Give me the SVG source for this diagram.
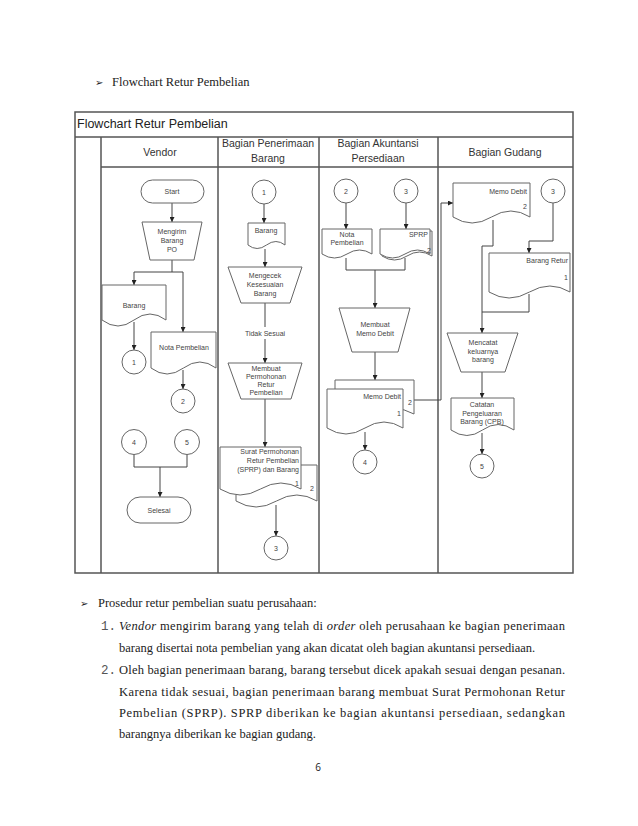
<svg xmlns="http://www.w3.org/2000/svg" width="638" height="826" viewBox="0 0 638 826">
<defs>
<marker id="ah" viewBox="0 0 10 10" refX="10" refY="5" markerWidth="5" markerHeight="5" orient="auto"><path d="M0,0 L10,5 L0,10 z" fill="#222"/></marker>
<style>
.frame{fill:none;stroke:#555;stroke-width:1.5}
.sh{fill:#fff;stroke:#666;stroke-width:1}
.ln{fill:none;stroke:#444;stroke-width:1}
.ar{fill:none;stroke:#444;stroke-width:1;marker-end:url(#ah)}
.t{font-family:"Liberation Sans",Arial,sans-serif;font-size:7px;fill:#444;text-anchor:middle}
.tr{font-family:"Liberation Sans",Arial,sans-serif;font-size:7px;fill:#444;text-anchor:end}
.hd{font-family:"Liberation Sans",Arial,sans-serif;font-size:10.5px;fill:#333;text-anchor:middle}
.body{font-family:"Liberation Serif","Times New Roman",serif;font-size:12.5px;fill:#222}
.mono{font-family:"Liberation Mono","Courier New",monospace;font-size:12.5px;fill:#555}
.bul{font-family:"DejaVu Sans",sans-serif;font-size:10px;fill:#222}
</style>
</defs>
<rect width="638" height="826" fill="#fff"/>

<g id="heading">
<text class="bul" x="95" y="86">➢</text>
<text class="body" x="112" y="86">Flowchart Retur Pembelian</text>
</g>

<g id="frame">
<rect class="frame" x="75" y="112" width="498" height="461"/>
<line class="frame" x1="75" y1="137" x2="573" y2="137"/>
<line class="frame" x1="101" y1="137" x2="101" y2="573"/>
<line class="frame" x1="101" y1="167" x2="573" y2="167"/>
<line class="frame" x1="218" y1="137" x2="218" y2="573"/>
<line class="frame" x1="319" y1="137" x2="319" y2="573"/>
<line class="frame" x1="438" y1="137" x2="438" y2="573"/>
<text x="77" y="128" font-family="Liberation Sans,Arial,sans-serif" font-size="12.5" fill="#222">Flowchart Retur Pembelian</text>
<text class="hd" x="160" y="156">Vendor</text>
<text class="hd" x="268" y="147">Bagian Penerimaan</text>
<text class="hd" x="268" y="162">Barang</text>
<text class="hd" x="378" y="147">Bagian Akuntansi</text>
<text class="hd" x="378" y="162">Persediaan</text>
<text class="hd" x="505" y="156">Bagian Gudang</text>
</g>

<g id="connectors">
<line class="ar" x1="172" y1="203" x2="172" y2="222"/>
<polyline class="ln" points="172,260 172,272"/>
<line class="ln" x1="134" y1="272" x2="183" y2="272"/>
<line class="ar" x1="134" y1="272" x2="134" y2="285"/>
<line class="ar" x1="183" y1="272" x2="183" y2="332"/>
<line class="ar" x1="134" y1="322" x2="134" y2="350"/>
<line class="ar" x1="183" y1="370" x2="183" y2="389"/>
<polyline class="ln" points="134,454 134,467 187,467 187,454"/>
<line class="ar" x1="160" y1="467" x2="160" y2="497"/>

<line class="ar" x1="264" y1="204" x2="264" y2="223"/>
<line class="ar" x1="265" y1="249" x2="265" y2="267"/>
<line class="ln" x1="265" y1="303" x2="265" y2="327"/>
<line class="ar" x1="265" y1="339" x2="265" y2="363"/>
<line class="ar" x1="265" y1="399" x2="265" y2="447"/>
<line class="ar" x1="276" y1="505" x2="276" y2="536"/>

<line class="ar" x1="346" y1="203" x2="346" y2="229"/>
<line class="ar" x1="406" y1="203" x2="406" y2="229"/>
<polyline class="ln" points="346,258 346,270 405,270 405,258"/>
<line class="ar" x1="375" y1="270" x2="375" y2="308"/>
<line class="ar" x1="375" y1="352" x2="375" y2="380"/>
<line class="ar" x1="365" y1="432" x2="365" y2="450"/>
<polyline class="ar" points="414,400 441,400 441,203 453,203"/>

<polyline class="ar" points="553,203 553,241 529,241 529,253"/>
<polyline class="ar" points="493,220 493,246 482,246 482,333"/>
<polyline class="ln" points="529,294 529,312 482,312"/>
<line class="ar" x1="482" y1="372" x2="482" y2="398"/>
<line class="ar" x1="482" y1="433" x2="482" y2="454"/>
</g>

<g id="vendor-start">
<rect class="sh" x="141" y="180" width="63" height="23" rx="11.5"/>
<text class="t" x="172" y="194">Start</text>
</g>
<g id="vendor-kirim">
<path class="sh" d="M142,222 H202 L194,260 H150 Z"/>
<text class="t" x="172" y="234">Mengirim</text>
<text class="t" x="172" y="243">Barang</text>
<text class="t" x="172" y="252">PO</text>
</g>
<g id="vendor-barang">
<path class="sh" d="M102,285 H166 V320 Q150,308 134,320 T102,320 Z"/>
<text class="t" x="134" y="308">Barang</text>
</g>
<g id="vendor-nota">
<path class="sh" d="M151,332 H216 V368 Q200,356 183.5,368 T151,368 Z"/>
<text class="t" x="184" y="350">Nota Pembelian</text>
</g>
<g id="vendor-c1"><circle class="sh" cx="134" cy="362" r="12"/><text class="t" x="134" y="364.5">1</text></g>
<g id="vendor-c2"><circle class="sh" cx="183" cy="401" r="12"/><text class="t" x="183" y="403.5">2</text></g>
<g id="vendor-c4"><circle class="sh" cx="134" cy="442" r="12.5"/><text class="t" x="134" y="444.5">4</text></g>
<g id="vendor-c5"><circle class="sh" cx="187" cy="442" r="12.5"/><text class="t" x="187" y="444.5">5</text></g>
<g id="vendor-selesai">
<rect class="sh" x="127" y="497" width="64" height="26" rx="13"/>
<text class="t" x="159" y="512.5">Selesai</text>
</g>

<g id="pb-c1"><circle class="sh" cx="264" cy="192" r="12"/><text class="t" x="264" y="194.5">1</text></g>
<g id="pb-barang">
<path class="sh" d="M248,223 H285 V245 Q276,238 266.5,245 T248,245 Z"/>
<text class="t" x="266" y="233">Barang</text>
</g>
<g id="pb-cek">
<path class="sh" d="M228,267 H302 L290,303 H241 Z"/>
<text class="t" x="265" y="278">Mengecek</text>
<text class="t" x="265" y="287">Kesesuaian</text>
<text class="t" x="265" y="296">Barang</text>
</g>
<text class="t" x="265" y="335.5">Tidak Sesuai</text>
<g id="pb-buat">
<path class="sh" d="M228,363 H302 L291,399 H241 Z"/>
<text class="t" x="266" y="371">Membuat</text>
<text class="t" x="266" y="379">Permohonan</text>
<text class="t" x="266" y="387">Retur</text>
<text class="t" x="266" y="395">Pembelian</text>
</g>
<g id="pb-sprp">
<path class="sh" d="M236,465 H317 V501 Q297,489 276.5,501 T236,501 Z"/>
<path class="sh" d="M220,447 H301 V489 Q281,477 260.5,489 T220,489 Z"/>
<text class="tr" x="299" y="454">Surat Permohonan</text>
<text class="tr" x="299" y="463">Retur Pembelian</text>
<text class="tr" x="299" y="472">(SPRP) dan Barang</text>
<text class="tr" x="299" y="486">1</text>
<text class="tr" x="314" y="491">2</text>
</g>
<g id="pb-c3"><circle class="sh" cx="276" cy="548" r="12"/><text class="t" x="276" y="550.5">3</text></g>

<g id="ak-c2"><circle class="sh" cx="346" cy="191" r="12"/><text class="t" x="346" y="193.5">2</text></g>
<g id="ak-c3"><circle class="sh" cx="406" cy="191" r="12"/><text class="t" x="406" y="193.5">3</text></g>
<g id="ak-nota">
<path class="sh" d="M322,229 H372 V254 Q359.5,246 347,254 T322,254 Z"/>
<text class="t" x="347" y="237">Nota</text>
<text class="t" x="347" y="245">Pembelian</text>
</g>
<g id="ak-sprp">
<path class="sh" d="M382,231 H432 V256 Q419.5,248 407,256 T382,256 Z"/>
<path class="sh" d="M380,229 H430 V254 Q417.5,246 405,254 T380,254 Z"/>
<text class="tr" x="428" y="237">SPRP</text>
<text class="tr" x="431" y="253">2</text>
</g>
<g id="ak-memo">
<path class="sh" d="M339,308 H410 L398,352 H352 Z"/>
<text class="t" x="375" y="327">Membuat</text>
<text class="t" x="375" y="336">Memo Debit</text>
</g>
<g id="ak-memodoc">
<path class="sh" d="M335,380 H414 V414 Q394,403 374.5,414 T335,414 Z"/>
<path class="sh" d="M327,389 H403 V428 Q384,416 365,428 T327,428 Z"/>
<text class="tr" x="401" y="399">Memo Debit</text>
<text class="tr" x="401" y="416">1</text>
<text class="tr" x="412" y="405">2</text>
</g>
<g id="ak-c4"><circle class="sh" cx="365" cy="462" r="12"/><text class="t" x="365" y="464.5">4</text></g>

<g id="gd-memo">
<path class="sh" d="M453,183 H530 V217 Q511,205 491.5,217 T453,217 Z"/>
<text class="tr" x="527" y="194">Memo Debit</text>
<text class="tr" x="527" y="209">2</text>
</g>
<g id="gd-c3"><circle class="sh" cx="553" cy="191" r="12"/><text class="t" x="553" y="193.5">3</text></g>
<g id="gd-retur">
<path class="sh" d="M489,253 H570 V292 Q550,280 529.5,292 T489,292 Z"/>
<text class="tr" x="568" y="263">Barang Retur</text>
<text class="tr" x="568" y="280">1</text>
</g>
<g id="gd-catat">
<path class="sh" d="M447,333 H518 L505,372 H461 Z"/>
<text class="t" x="483" y="345">Mencatat</text>
<text class="t" x="483" y="354">keluarnya</text>
<text class="t" x="483" y="362">barang</text>
</g>
<g id="gd-cpb">
<path class="sh" d="M451,398 H514 V430 Q498,419 482.5,430 T451,430 Z"/>
<text class="t" x="482" y="407">Catatan</text>
<text class="t" x="482" y="416">Pengeluaran</text>
<text class="t" x="482" y="424">Barang (CPB)</text>
</g>
<g id="gd-c5"><circle class="sh" cx="482" cy="466" r="12"/><text class="t" x="482" y="468.5">5</text></g>

<g id="body-text">
<text class="bul" x="80" y="607">➢</text>
<text class="body" x="98" y="607">Prosedur retur pembelian suatu perusahaan:</text>
<text class="mono" x="101" y="630">1.</text>
<text class="body" x="119" y="630" textLength="446" lengthAdjust="spacing"><tspan font-style="italic">Vendor</tspan> mengirim barang yang telah di <tspan font-style="italic">order</tspan> oleh perusahaan ke bagian penerimaan</text>
<text class="body" x="119" y="652">barang disertai nota pembelian yang akan dicatat oleh bagian akuntansi persediaan.</text>
<text class="mono" x="101" y="674">2.</text>
<text class="body" x="119" y="674" textLength="446" lengthAdjust="spacing">Oleh bagian penerimaan barang, barang tersebut dicek apakah sesuai dengan pesanan.</text>
<text class="body" x="119" y="696" textLength="446" lengthAdjust="spacing">Karena tidak sesuai, bagian penerimaan barang membuat Surat Permohonan Retur</text>
<text class="body" x="119" y="717" textLength="446" lengthAdjust="spacing">Pembelian (SPRP). SPRP diberikan ke bagian akuntansi persediaan, sedangkan</text>
<text class="body" x="119" y="738">barangnya diberikan ke bagian gudang.</text>
<text x="318" y="771" font-family="Open Sans,Liberation Sans,sans-serif" font-size="10" fill="#222" text-anchor="middle">6</text>
</g>
</svg>
